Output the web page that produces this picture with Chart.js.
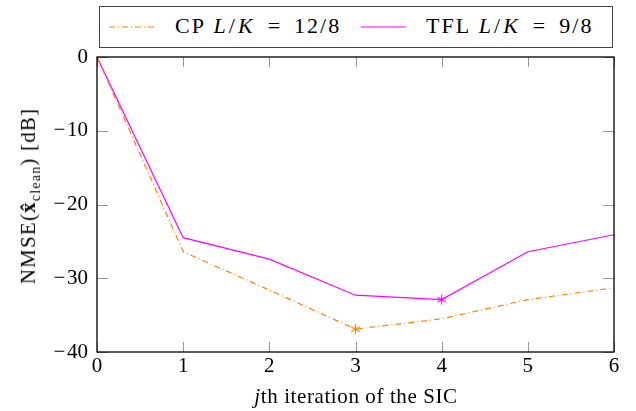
<!DOCTYPE html>
<html>
<head>
<meta charset="utf-8">
<script src="https://cdn.jsdelivr.net/npm/chart.js@4/dist/chart.umd.min.js"></script>
<style>
    body { margin: 0; background: #fff; }
    #wrap { position: relative; width: 636px; height: 411px; font-family: "Liberation Serif", "DejaVu Serif", serif; color: #000; }
    #chart { position: absolute; left: 0; top: 0; }
    .legend { position: absolute; left: 99px; top: 6px; width: 512px; height: 40px; border: 1px solid #444; background: #fff; }
    .legend svg { position: absolute; top: 0; }
    .legend span { position: absolute; top: 7px; font-size: 22px; white-space: nowrap; line-height: 24px; letter-spacing: 2px; }
    .legend i { margin: 0 1px; }
    .legend .eq { margin: 0 12px; }
    .ytitle { position: absolute; left: 30px; top: 196px; font-size: 21px; letter-spacing: 1.2px; white-space: nowrap; transform: translate(-50%, -50%) rotate(-90deg); }
    .ytitle sub { font-size: 14px; }
    .xtitle { position: absolute; left: 356px; top: 384px; font-size: 21px; letter-spacing: 0.6px; white-space: nowrap; transform: translateX(-50%); }
</style>
</head>
<body>
<div id="wrap">
    <canvas id="chart" width="636" height="411"></canvas>
    <div class="legend">
        <svg style="left:8px" width="47" height="40"><line x1="1" y1="20" x2="46" y2="20" stroke="rgb(255,128,0)" stroke-width="1.2" stroke-dasharray="6,3,1,3"/></svg>
        <span style="left:75px">CP <i>L</i>/<i>K</i><span class="eq" style="position:static">=</span>12/8</span>
        <svg style="left:260px" width="47" height="40"><line x1="1" y1="20" x2="46" y2="20" stroke="#ff00ff" stroke-width="1.2"/></svg>
        <span style="left:326px">TFL <i>L</i>/<i>K</i><span class="eq" style="position:static">=</span>9/8</span>
    </div>
    <div class="ytitle">NMSE(<b>x&#770;</b><sub>clean</sub>) [dB]</div>
    <div class="xtitle"><i>j</i>th iteration of the SIC</div>
</div>
<script>
const iterations = [0, 1, 2, 3, 4, 5, 6];
const cpValues = [0, -26.4, -31.6, -36.9, -35.5, -32.9, -31.3];
const tflValues = [0, -24.5, -27.4, -32.3, -32.9, -26.4, -24.1];
const xTicks = [0, 1, 2, 3, 4, 5, 6];
const yTicks = [0, -10, -20, -30, -40];

const ORANGE = 'rgb(255,128,0)';
const MAGENTA = '#ff00ff';

function asterisk(color) {
    const c = document.createElement('canvas');
    c.width = 13; c.height = 13;
    const g = c.getContext('2d');
    g.strokeStyle = color;
    g.lineWidth = 1.2;
    for (let k = 0; k < 3; k++) {
        const a = Math.PI / 2 + k * Math.PI / 3;
        g.beginPath();
        g.moveTo(6.5 - 5 * Math.cos(a), 6.5 - 5 * Math.sin(a));
        g.lineTo(6.5 + 5 * Math.cos(a), 6.5 + 5 * Math.sin(a));
        g.stroke();
    }
    return c;
}

function minMarker(values) {
    const m = Math.min(...values);
    return values.map(v => v === m ? 6 : 0);
}

const frameTicks = {
    id: 'frameTicks',
    afterDraw(chart) {
        const ctx = chart.ctx;
        const a = chart.chartArea;
        const xs = chart.scales.x, ys = chart.scales.y;
        ctx.save();
        ctx.strokeStyle = '#999';
        ctx.lineWidth = 1;
        ctx.beginPath();
        xTicks.forEach(t => {
            const px = Math.round(xs.getPixelForValue(t)) + 0.5;
            ctx.moveTo(px, a.bottom); ctx.lineTo(px, a.bottom - 10);
            ctx.moveTo(px, a.top); ctx.lineTo(px, a.top + 10);
        });
        yTicks.forEach(t => {
            const py = Math.round(ys.getPixelForValue(t)) + 0.5;
            ctx.moveTo(a.left, py); ctx.lineTo(a.left + 11, py);
            ctx.moveTo(a.right, py); ctx.lineTo(a.right - 11, py);
        });
        ctx.stroke();
        ctx.strokeStyle = '#000';
        ctx.lineWidth = 1.3;
        ctx.strokeRect(a.left, a.top, a.right - a.left, a.bottom - a.top);
        ctx.restore();
    }
};

const tickFont = { family: '"Liberation Serif", "DejaVu Serif", serif', size: 21 };

new Chart(document.getElementById('chart'), {
    type: 'line',
    data: {
        datasets: [{
            label: 'CP L/K = 12/8',
            data: iterations.map((x, i) => ({ x: x, y: cpValues[i] })),
            borderColor: ORANGE,
            borderWidth: 1.2,
            borderDash: [6, 3, 1, 3],
            pointStyle: asterisk(ORANGE),
            pointRadius: minMarker(cpValues),
            tension: 0,
            fill: false
        }, {
            label: 'TFL L/K = 9/8',
            data: iterations.map((x, i) => ({ x: x, y: tflValues[i] })),
            borderColor: MAGENTA,
            borderWidth: 1.2,
            pointStyle: asterisk(MAGENTA),
            pointRadius: minMarker(tflValues),
            tension: 0,
            fill: false
        }]
    },
    options: {
        responsive: false,
        animation: false,
        layout: { padding: { left: 0, top: 57, right: 22, bottom: 0 } },
        plugins: { legend: { display: false }, tooltip: { enabled: false } },
        scales: {
            x: {
                type: 'linear',
                min: 0,
                max: 6,
                grid: { display: false, drawTicks: false },
                border: { display: false },
                afterBuildTicks: s => { s.ticks = xTicks.map(v => ({ value: v })); },
                ticks: { font: tickFont, color: '#000', padding: 2, maxRotation: 0 },
                afterFit: s => { s.height = 59; s.paddingLeft = 0; s.paddingRight = 0; }
            },
            y: {
                min: -40,
                max: 0,
                grid: { display: false, drawTicks: false },
                border: { display: false },
                afterBuildTicks: s => { s.ticks = yTicks.map(v => ({ value: v })); },
                ticks: {
                    font: tickFont,
                    color: '#000',
                    padding: 9,
                    callback: v => String(v).replace('-', '\u2212\u200a')
                },
                afterFit: s => { s.width = 97; s.paddingTop = 0; s.paddingBottom = 0; }
            }
        }
    },
    plugins: [frameTicks]
});
</script>
</body>
</html>
